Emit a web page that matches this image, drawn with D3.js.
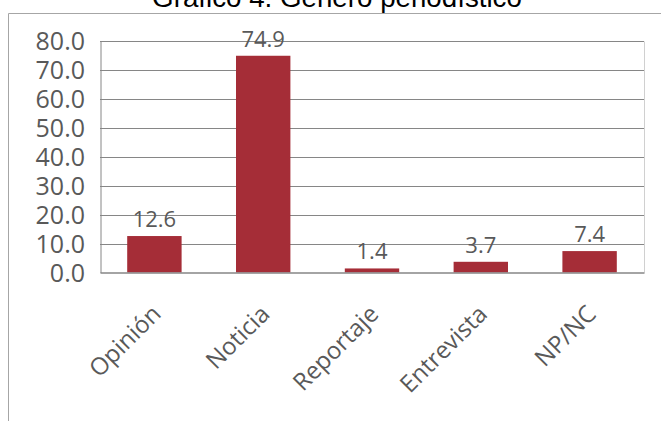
<!DOCTYPE html>
<html>
<head>
<meta charset="utf-8">
<script src="https://cdn.jsdelivr.net/npm/d3@7/dist/d3.min.js"></script>
<style>
  html, body { margin: 0; padding: 0; background: #fff; }
  svg { display: block; }
</style>
</head>
<body>
<svg id="chart" width="661" height="421"></svg>
<script>
const title = "Gráfico 4. Género periodístico";
const categories = ["Opinión", "Noticia", "Reportaje", "Entrevista", "NP/NC"];
const values = [12.6, 74.9, 1.4, 3.7, 7.4];
const yTicks = [0, 10, 20, 30, 40, 50, 60, 70, 80];

const svg = d3.select("#chart");
const W = 661, H = 421;
const plot = { left: 100, right: 644, top: 41, bottom: 272.5 };
const textColor = "#595959";
const font = "'Open Sans', 'Noto Sans', sans-serif";

// outer chart-area border (left + top visible)
svg.append("path")
  .attr("d", `M8.5,${H} L8.5,13.5 L${W},13.5`)
  .attr("fill", "none").attr("stroke", "#a6a6a6").attr("stroke-width", 1);

// title (partially clipped at top)
const t = svg.append("text")
  .attr("x", 337).attr("y", 7)
  .attr("text-anchor", "middle")
  .attr("font-family", "'Liberation Sans', Arial, sans-serif")
  .attr("font-size", 24)
  .attr("fill", "#000")
  .text(title);
const tl = t.node().getComputedTextLength();
t.attr("font-size", 24 * 370 / tl);

const x = d3.scaleBand().domain(categories).range([plot.left, plot.right]).paddingInner(0.5).paddingOuter(0.25);
const y = d3.scaleLinear().domain([0, 80]).range([plot.bottom, plot.top]);

// gridlines
const grid = svg.append("g");
grid.selectAll("line").data(yTicks.filter(d => d > 0)).join("line")
  .attr("x1", plot.left).attr("x2", plot.right)
  .attr("y1", d => Math.round(y(d)) + 0.5).attr("y2", d => Math.round(y(d)) + 0.5)
  .attr("stroke", "#868686").attr("stroke-width", 1);

// right border of plot (light)
svg.append("line")
  .attr("x1", plot.right + 0.5).attr("x2", plot.right + 0.5)
  .attr("y1", Math.round(y(80)) + 0.5).attr("y2", plot.bottom)
  .attr("stroke", "#d0d0d0").attr("stroke-width", 1);

// y axis
const yAxis = d3.axisLeft(y).tickValues(yTicks).tickSize(0).tickPadding(15).tickFormat(d3.format(".1f"));
const gy = svg.append("g").attr("transform", `translate(${plot.left},0)`).call(yAxis);
gy.select(".domain").attr("stroke", "#868686").attr("stroke-width", 1)
  .attr("transform", "translate(0.5,0)");
gy.selectAll("text").attr("font-family", font).attr("font-size", 25).attr("fill", textColor).attr("dy", "0.35em");

// bars
svg.append("g").selectAll("rect").data(values).join("rect")
  .attr("x", (d, i) => x(categories[i]))
  .attr("width", x.bandwidth())
  .attr("y", d => y(d))
  .attr("height", d => y(0) - y(d))
  .attr("fill", "#a52d37");

// x axis
const xAxis = d3.axisBottom(x).tickSize(0).tickPadding(0);
const gx = svg.append("g").attr("transform", `translate(0,${plot.bottom})`).call(xAxis);
gx.select(".domain").attr("stroke", "#868686").attr("stroke-width", 1.5);
gx.selectAll(".tick text")
  .attr("font-family", font).attr("font-size", 24).attr("fill", textColor)
  .attr("text-anchor", "end")
  .attr("y", 0).attr("dy", "0.35em")
  .attr("transform", "translate(2,37) rotate(-45)");

// data labels
svg.append("g").selectAll("text").data(values).join("text")
  .attr("x", (d, i) => x(categories[i]) + x.bandwidth() / 2)
  .attr("y", d => y(d) - 9)
  .attr("text-anchor", "middle")
  .attr("font-family", font).attr("font-size", 22)
  .attr("fill", textColor)
  .text(d => d3.format(".1f")(d));
</script>
</body>
</html>
